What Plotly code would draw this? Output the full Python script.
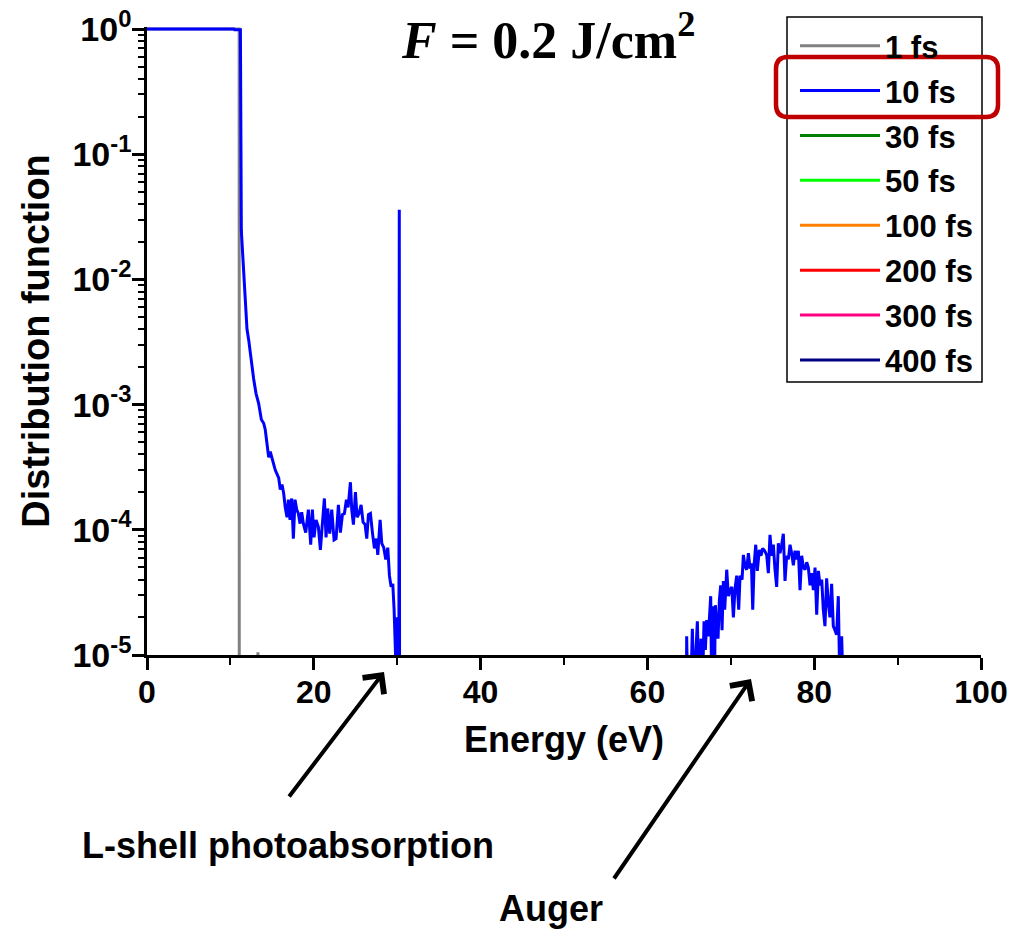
import plotly.graph_objects as go

# ---- data: electron distribution function vs energy ----
legend_labels = ["1 fs", "10 fs", "30 fs", "50 fs", "100 fs", "200 fs", "300 fs", "400 fs"]
line_colors = ["#808080", "#0000FF", "#007F00", "#00FF00", "#FF8000", "#FF0000", "#FF0080", "#000080"]

# 1 fs
energy_1fs = [0.0, 11.05, 11.07, 13.2, 13.3, 13.4, 100.0]
dist_1fs = [1.0, 1.0, 1e-7, 1e-7, 1.05e-5, 1e-7, 1e-7]

# 10 fs: filled band and secondary-electron tail
energy_10fs_low = [0.0, 10.4, 10.5, 11.2, 11.31, 11.51, 11.79, 11.99, 12.19, 12.51, 12.79,
                   13.07, 13.39, 13.71, 13.99, 14.18, 14.42, 14.59, 14.78, 15.07, 15.38,
                   15.79, 15.98, 16.19, 16.39, 16.58, 16.79, 16.95, 17.15, 17.35, 17.55,
                   17.75, 17.95, 18.15, 18.35, 18.55, 18.75, 19.03, 19.35, 19.63, 19.83,
                   20.03, 20.27, 20.55, 20.79, 21.03, 21.27, 21.47, 21.67, 21.91, 22.15,
                   22.43, 22.67, 22.95, 23.19, 23.43, 23.67, 23.91, 24.11, 24.39, 24.55,
                   24.75, 24.99, 25.19, 25.43, 25.67, 25.91, 26.15, 26.35, 26.55, 26.79,
                   27.03, 27.27, 27.51, 27.67, 27.95, 28.15, 28.39, 28.63, 28.87, 29.07,
                   29.27, 29.47, 29.63, 29.75, 29.85, 29.95, 30.07]
dist_10fs_low = [1.0, 1.0, 0.985, 0.985, 0.0245, 0.0135, 5.8e-3, 4.0e-3, 3.3e-3, 2.1e-3, 1.6e-3,
                 1.23e-3, 1.02e-3, 7.6e-4, 7.1e-4, 6.3e-4, 4.9e-4, 3.8e-4, 4.2e-4, 3.6e-4, 3.0e-4,
                 2.6e-4, 2.1e-4, 2.3e-4, 1.95e-4, 1.5e-4, 1.26e-4, 1.74e-4, 1.2e-4, 1.78e-4, 8.5e-5,
                 1.74e-4, 1.45e-4, 1.35e-4, 1.12e-4, 1.38e-4, 1.12e-4, 9.5e-5, 1.45e-4, 7.6e-5, 1.45e-4,
                 8.7e-5, 1.2e-4, 1.05e-4, 6.9e-5, 1.12e-4, 1.78e-4, 8.7e-5, 1.48e-4, 9.3e-5, 1.45e-4,
                 8.3e-5, 8.5e-5, 1.58e-4, 9.5e-5, 1.32e-4, 1.35e-4, 1.74e-4, 1.51e-4, 2.4e-4, 1.45e-4,
                 1.1e-4, 2.0e-4, 1.26e-4, 1.35e-4, 1.58e-4, 1.15e-4, 1.1e-4, 8.5e-5, 1.32e-4, 1.35e-4,
                 9.5e-5, 7.1e-5, 8.5e-5, 6.3e-5, 1.2e-4, 7.8e-5, 7.2e-5, 5.8e-5, 7.2e-5, 4.3e-5,
                 3.5e-5, 3.7e-5, 2.3e-5, 1.02e-5, 8e-6, 2.0e-5, 5e-6]

# 10 fs: L-shell photoabsorption line
energy_10fs_peak = [30.2, 30.25, 30.3, 64.6]
dist_10fs_peak = [5e-6, 0.036, 1e-7, 1e-7]

# 10 fs: Auger electrons
energy_10fs_auger = [64.71, 64.83, 65.2, 65.39, 65.59, 65.99, 66.19, 66.43, 66.59, 66.79,
                     66.95, 67.11, 67.31, 67.43, 67.59, 67.71, 67.87, 68.03, 68.15, 68.31,
                     68.47, 68.63, 68.79, 68.95, 69.11, 69.27, 69.51, 69.71, 69.91, 70.11,
                     70.31, 70.51, 70.71, 70.95, 71.11, 71.35, 71.51, 71.71, 71.91, 72.11,
                     72.31, 72.47, 72.63, 72.79, 72.99, 73.18, 73.42, 73.62, 73.82, 74.06,
                     74.30, 74.50, 74.70, 74.90, 75.10, 75.30, 75.50, 75.70, 75.90, 76.10,
                     76.30, 76.50, 76.70, 76.90, 77.10, 77.30, 77.50, 77.70, 77.90, 78.10,
                     78.30, 78.50, 78.70, 78.90, 79.10, 79.30, 79.50, 79.70, 79.90, 80.10,
                     80.30, 80.50, 80.70, 80.90, 81.09, 81.29, 81.49, 81.69, 81.89, 82.09,
                     82.29, 82.49, 82.69, 82.89, 83.09, 83.29, 83.49, 83.6, 100.0]
dist_10fs_auger = [1.41e-5, 5e-6, 5e-6, 1.62e-5, 5e-6, 1.86e-5, 5e-6, 1.35e-5, 5e-6, 1.86e-5,
                   1.1e-5, 1.9e-5, 1.41e-5, 1.9e-5, 2.95e-5, 5e-6, 2.45e-5, 5e-6, 2.5e-5, 1.7e-5,
                   1.35e-5, 2.75e-5, 3.6e-5, 1.58e-5, 3.9e-5, 2.3e-5, 4.8e-5, 2.95e-5, 3.3e-5, 3.5e-5,
                   2.0e-5, 3.4e-5, 4.3e-5, 2.3e-5, 4.3e-5, 4.0e-5, 6.3e-5, 5.1e-5, 4.8e-5, 6.5e-5,
                   4.9e-5, 5.4e-5, 2.3e-5, 5.2e-5, 7.6e-5, 4.7e-5, 6.9e-5, 6.2e-5, 7.1e-5, 6.8e-5,
                   6.3e-5, 4.5e-5, 9.1e-5, 6.2e-5, 7.6e-5, 4.8e-5, 3.5e-5, 7.8e-5, 6.5e-5, 7.6e-5,
                   9.3e-5, 3.9e-5, 6.2e-5, 5.8e-5, 7.6e-5, 6.5e-5, 5.2e-5, 6.8e-5, 5.8e-5, 6.8e-5,
                   3.3e-5, 6.2e-5, 5.0e-5, 4.8e-5, 5.5e-5, 5.0e-5, 3.6e-5, 4.5e-5, 3.3e-5, 5.0e-5,
                   2.1e-5, 4.7e-5, 3.6e-5, 4.0e-5, 2.3e-5, 1.7e-5, 4.1e-5, 2.6e-5, 2.0e-5, 3.7e-5,
                   1.7e-5, 1.58e-5, 1.45e-5, 2.95e-5, 5e-6, 1.41e-5, 5e-6, 1e-7, 1e-7]

energy_10fs = energy_10fs_low + energy_10fs_peak + energy_10fs_auger
dist_10fs = dist_10fs_low + dist_10fs_peak + dist_10fs_auger

y_decades = [1e-5, 1e-4, 1e-3, 1e-2, 1e-1, 1.0]
y_ticktext = ["10<sup>-5</sup>", "10<sup>-4</sup>", "10<sup>-3</sup>",
              "10<sup>-2</sup>", "10<sup>-1</sup>", "10<sup>0</sup>"]
x_ticks = [0, 20, 40, 60, 80, 100]

SANS = "Liberation Sans"
SERIF = "Liberation Serif"

fig = go.Figure()
series = {0: (energy_1fs, dist_1fs), 1: (energy_10fs, dist_10fs)}
for i, (label, color) in enumerate(zip(legend_labels, line_colors)):
    # later time steps have no points inside the plotted window
    xs, ys = series.get(i, ([None], [None]))
    fig.add_trace(go.Scatter(
        x=xs, y=ys, mode="lines", name=label, legendgroup=label,
        line=dict(color=color, width=3),
    ))

minor_y = [m * d for d in y_decades[:-1] for m in range(2, 10)]

fig.update_xaxes(
    range=[0, 100], tickvals=x_ticks, ticks="outside", ticklen=12, tickwidth=2.5,
    tickcolor="black", showline=True, linecolor="black", linewidth=2.5,
    showgrid=False, zeroline=False, automargin=False, ticklabelstandoff=-5,
    tickfont=dict(family=SANS, size=32, color="black", weight="bold"),
    minor=dict(dtick=10, ticks="outside", ticklen=7, tickwidth=2, tickcolor="black"),
    title=dict(text="Energy (eV)", font=dict(family=SANS, size=36, color="black", weight="bold"),
               standoff=18),
)
fig.update_yaxes(
    type="log", range=[-5, 0.016], tickvals=y_decades, ticktext=y_ticktext,
    ticks="outside", ticklen=12, tickwidth=2.5, tickcolor="black",
    showline=True, linecolor="black", linewidth=2.5, showgrid=False, zeroline=False,
    automargin=False, ticklabelstandoff=-6,
    tickfont=dict(family=SANS, size=34, color="black", weight="bold"),
    minor=dict(tickvals=minor_y, ticks="outside", ticklen=6, tickwidth=1.5, tickcolor="black"),
    title=dict(text="Distribution function", font=dict(family=SANS, size=38, color="black", weight="bold"),
               standoff=12),
)

# pixel -> paper helpers for the overlay positions
L, R, T, B = 147, 981, 27, 655
def px(x):
    return (x - L) / (R - L)
def py(y):
    return (B - y) / (B - T)

fig.update_layout(
    width=1013, height=929,
    margin=dict(l=L, r=1013 - R, t=T, b=929 - B, autoexpand=False),
    paper_bgcolor="white", plot_bgcolor="white",
    showlegend=True,
    legend=dict(
        x=px(795), y=py(19), xanchor="left", yanchor="top",
        borderwidth=0, bgcolor="rgba(0,0,0,0)",
        font=dict(family=SANS, size=31, color="black", weight="bold"),
        itemwidth=80, tracegroupgap=1.6,
    ),
)

# legend frame
fig.add_shape(type="rect", xref="paper", yref="paper",
              x0=px(787), x1=px(982), y0=py(382), y1=py(17),
              line=dict(color="black", width=1.5), fillcolor="rgba(0,0,0,0)", layer="below")

# highlight box round the 10 fs entry
x0, x1, y0, y1 = px(776), px(998), py(117), py(57)
rx, ry = 12 / (R - L), 12 / (B - T)
path = (f"M{x0 + rx},{y0} L{x1 - rx},{y0} Q{x1},{y0} {x1},{y0 + ry} "
        f"L{x1},{y1 - ry} Q{x1},{y1} {x1 - rx},{y1} "
        f"L{x0 + rx},{y1} Q{x0},{y1} {x0},{y1 - ry} "
        f"L{x0},{y0 + ry} Q{x0},{y0} {x0 + rx},{y0} Z")
fig.add_shape(type="path", path=path, xref="paper", yref="paper",
              line=dict(color="#C00000", width=4.5))

# fluence label
fig.add_annotation(
    text="<i>F</i> = 0.2 J/cm<sup>2</sup>", x=px(548), y=py(36), xref="paper", yref="paper",
    showarrow=False, xanchor="center", yanchor="middle",
    font=dict(family=SERIF, size=52, color="black", weight="bold"),
)

# arrows pointing at the features
for tip, tail in [((384, 672), (288, 798)), ((751, 679), (613, 880))]:
    fig.add_annotation(
        x=px(tip[0]), y=py(tip[1]), xref="paper", yref="paper", text="",
        showarrow=True, ax=tail[0] - tip[0], ay=tail[1] - tip[1],
        arrowhead=4, arrowsize=1.3, arrowwidth=4, arrowcolor="black",
    )

for label, cx, cy in [("L-shell photoabsorption", 288, 845), ("Auger", 551, 908)]:
    fig.add_annotation(
        text=label, x=px(cx), y=py(cy), xref="paper", yref="paper",
        showarrow=False, xanchor="center", yanchor="middle",
        font=dict(family=SANS, size=36, color="black", weight="bold"),
    )

fig.write_html("out.html")
